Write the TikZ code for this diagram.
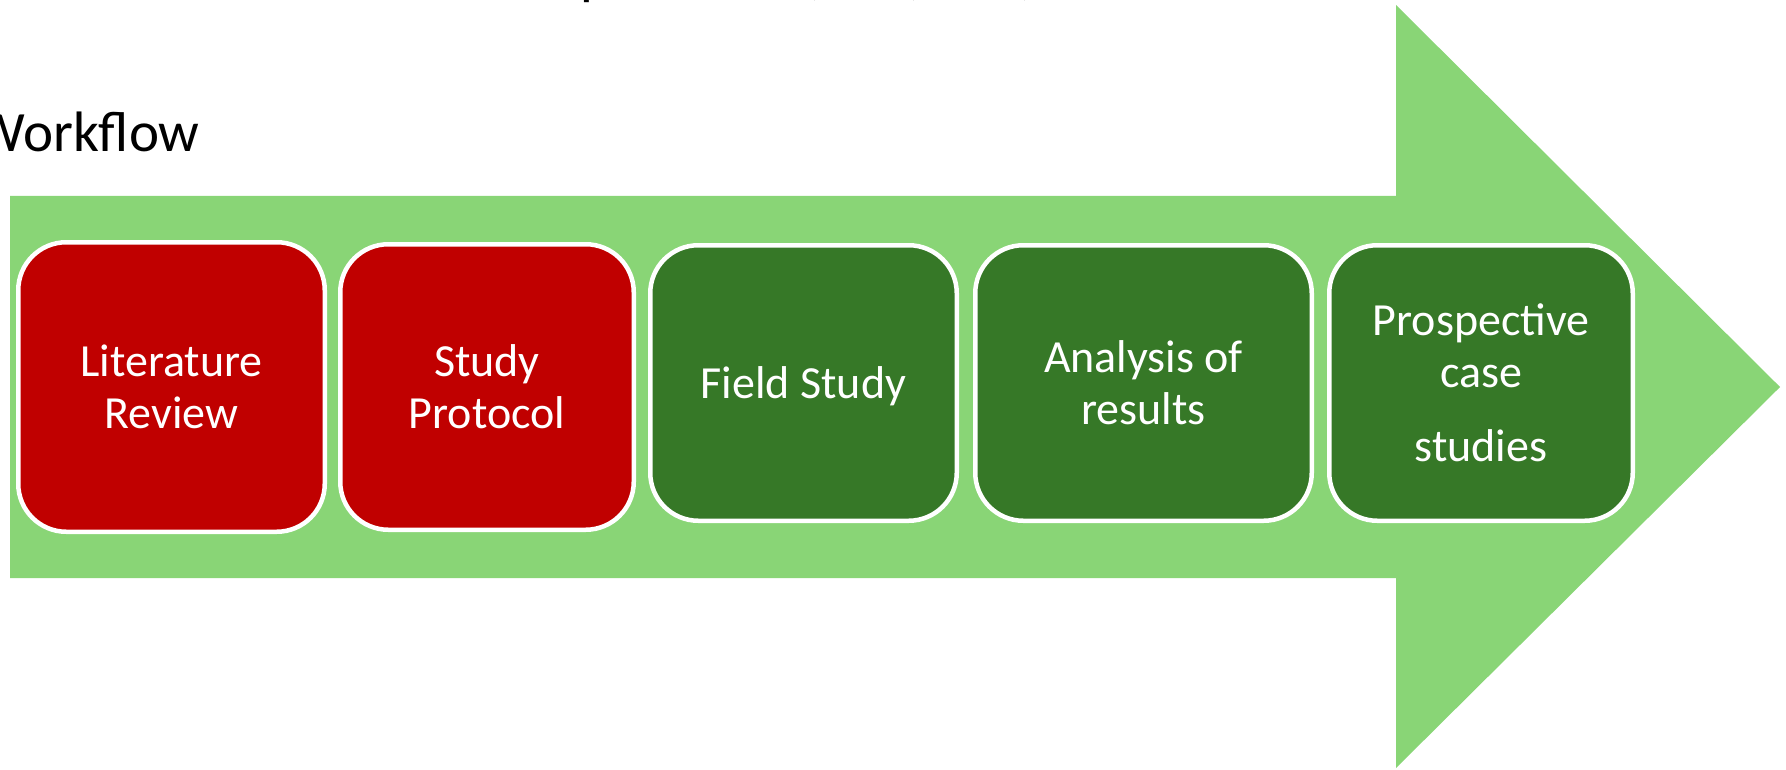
\documentclass[tikz,border=0pt]{standalone}
\usepackage{fontspec}
\setmainfont{Carlito}

\definecolor{arrowgreen}{RGB}{137,213,118}
\definecolor{stagered}{RGB}{192,0,0}
\definecolor{stagegreen}{RGB}{54,120,39}

\tikzset{
  stage/.style={draw=white, line width=2.25pt, rounded corners=24pt, text=white,
    align=center, inner sep=0pt, font=\fontsize{23}{26}\selectfont},
  heading/.style={inner sep=0pt, font=\fontsize{28.5}{34}\selectfont}
}

\begin{document}
\begin{tikzpicture}[x=0.5pt,y=0.5pt,yscale=-1,xscale=1]
\useasboundingbox (0,0) rectangle (1786,770);

%Block arrow
\fill [arrowgreen] (10,196) -- (1396,196) -- (1396,5) -- (1780,387) -- (1396,768) -- (1396,578) -- (10,578) -- cycle;

% Title line, only its lower edge falls inside the page
\draw (580,-6) node [heading, anchor=base west] (ttlp) {p};
\draw (817,-6) node [heading, anchor=base] (ttlca) {,};
\draw (916,-6) node [heading, anchor=base] (ttlcb) {,};
\draw (1027,-6) node [heading, anchor=base] (ttlcc) {,};

% Text Node
\draw (200,152) node [heading, anchor=base east] (workflow) {Workflow};

%Rounded Rect
\draw (171.5,387) node [stage, fill=stagered, minimum width=153.25pt, minimum height=144.75pt] (litrev) {Literature\\Review};
%Rounded Rect
\draw (487,387) node [stage, fill=stagered, minimum width=146.75pt, minimum height=142.75pt] (protocol) {Study\\Protocol};
%Rounded Rect
\draw (803.5,383) node [stage, fill=stagegreen, text depth=0pt, minimum width=153.25pt, minimum height=137.75pt] (field) {Field Study};
%Rounded Rect
\draw (1143.5,383) node [stage, fill=stagegreen, minimum width=168.25pt, minimum height=137.75pt] (analysis) {Analysis of\\results};
%Rounded Rect
\draw (1481,383) node [stage, fill=stagegreen, minimum width=151.75pt, minimum height=137.75pt] (cases) {Prospective\\case\\[11pt]studies};

\end{tikzpicture}
\end{document}
